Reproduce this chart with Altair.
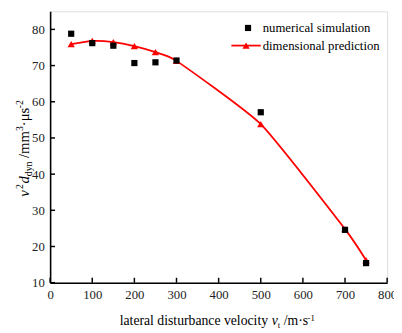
import altair as alt
import pandas as pd

# ---- data ----
velocity = [50, 100, 150, 200, 250, 300, 500, 700, 750]
simulation = [78.8, 76.2, 75.5, 70.7, 70.9, 71.4, 57.1, 24.6, 15.4]
prediction = [75.9, 76.8, 76.5, 75.4, 73.7, 71.3, 53.8, 24.8, 16.2]
x_ticks = [0, 100, 200, 300, 400, 500, 600, 700, 800]
y_ticks = [10, 20, 30, 40, 50, 60, 70, 80]
series_names = ["numerical simulation", "dimensional prediction"]

W, H = 344, 277
FONT = "Liberation Serif"

df_sim = pd.DataFrame({"v": velocity, "y": simulation})
df_pred = pd.DataFrame({"v": velocity, "y": prediction})

xs = alt.Scale(domain=[0, 800], nice=False, zero=False)
ys = alt.Scale(domain=[10, 85], nice=False, zero=False)

xaxis = alt.Axis(values=x_ticks, ticks=False, grid=False, labelFont=FONT, labelFontSize=13,
                 labelColor="#222", labelPadding=6, domainColor="black", domainWidth=1.6,
                 title=None, labelFlush=False, labelOverlap=False)
yaxis = alt.Axis(values=y_ticks, ticks=False, grid=False, labelFont=FONT, labelFontSize=13,
                 labelColor="#222", labelPadding=6, domainColor="black", domainWidth=1.6,
                 title=None, labelOverlap=False, labelFlush=False)


def X(field):
    return alt.X(field, scale=xs, axis=xaxis)


def Y(field):
    return alt.Y(field, scale=ys, axis=yaxis)


line = alt.Chart(df_pred).mark_line(color="#ff0000", strokeWidth=1.8, interpolate="cardinal", tension=0.5).encode(
    x=X("v:Q"), y=Y("y:Q"))
tri = alt.Chart(df_pred).mark_point(shape="triangle-up", filled=True, color="#ff0000", size=55, opacity=1).encode(
    x=X("v:Q"), y=Y("y:Q"))
sq = alt.Chart(df_sim).mark_point(shape="square", filled=True, color="black", size=40, opacity=1).encode(
    x=X("v:Q"), y=Y("y:Q"))

# inward ticks
xt = alt.Chart(pd.DataFrame({"t": x_ticks})).mark_rule(color="black", strokeWidth=1.5).encode(
    x=X("t:Q"), y=alt.value(H), y2=alt.value(H - 5))
yt = alt.Chart(pd.DataFrame({"t": y_ticks})).mark_rule(color="black", strokeWidth=1.5).encode(
    y=Y("t:Q"), x=alt.value(0), x2=alt.value(5))

# ---- text helpers ----
WID = {"v": .5, "d": .5, "y": .5, "n": .5, " ": .25, "/": .278, "m": .778, "·": .25, "μ": .576,
       "s": .389, "2": .5, "3": .5, "-": .333, "1": .5, "t": .278, "l": .278, "a": .444, "e": .444,
       "r": .333, "i": .278, "u": .5, "b": .5, "c": .444, "o": .5}


def tw(s, size):
    return sum(WID.get(ch, .5) for ch in s) * size


def piece(txt, x, y, size, italic=False, angle=0):
    kw = dict(font=FONT, fontSize=size, color="black", align="left", baseline="alphabetic")
    if italic:
        kw["fontStyle"] = "italic"
    if angle:
        kw["angle"] = angle
    return alt.Chart(pd.DataFrame({"t": [txt]})).mark_text(**kw).encode(
        text="t:N", x=alt.value(x), y=alt.value(y))


layers = []
# x title: (text, size, italic, baseline offset, gap before)
xp = [("lateral disturbance velocity", 14, False, 0, 0), ("v", 14, True, 0, 3.5),
      ("t", 9, False, 3, 0), ("/m·s", 14, False, 0, 3.5), ("-1", 9, False, -4, 0.5)]
cx, by = 71, 320
for t, s, it, off, gap in xp:
    cx += gap
    layers.append(piece(t, cx, by + off, s, it))
    cx += tw(t, s) * (0.9 if it else 1.0)

# y title (rotated)
yp = [("v", 15, True, 0, 0), ("2", 10, False, -6, 0.5), ("d", 15, True, 0, 0.5), ("dyn", 10, False, 3, 0),
      ("/mm", 15, False, 0, 3.5), ("3", 10, False, -6, 0), ("·μs", 15, False, 0, 0), ("-2", 10, False, -6, 0)]
total = sum(tw(t, s) + g for t, s, _, _, g in yp)
cy = 140 + total / 2
bx = -22
for t, s, it, off, gap in yp:
    cy -= gap
    layers.append(piece(t, bx + off, cy, s, it, angle=270))
    cy -= tw(t, s)

# legend
leg_sq = alt.Chart(pd.DataFrame({"k": [series_names[0]]})).mark_point(
    shape="square", filled=True, color="black", size=40, opacity=1).encode(x=alt.value(202), y=alt.value(17))
leg_line = alt.Chart(pd.DataFrame({"k": [series_names[1]]})).mark_rule(color="#ff0000", strokeWidth=1.8).encode(
    x=alt.value(185), x2=alt.value(215), y=alt.value(35))
leg_tri = alt.Chart(pd.DataFrame({"k": [series_names[1]]})).mark_point(
    shape="triangle-up", filled=True, color="#ff0000", size=55, opacity=1).encode(x=alt.value(200), y=alt.value(35))
leg_t1 = alt.Chart(pd.DataFrame({"k": [series_names[0]]})).mark_text(
    font=FONT, fontSize=13, align="left", baseline="middle", color="black").encode(
    text="k:N", x=alt.value(217), y=alt.value(17))
leg_t2 = alt.Chart(pd.DataFrame({"k": [series_names[1]]})).mark_text(
    font=FONT, fontSize=13, align="left", baseline="middle", color="black").encode(
    text="k:N", x=alt.value(217), y=alt.value(35))

chart = alt.layer(line, tri, sq, xt, yt, leg_sq, leg_line, leg_tri, leg_t1, leg_t2, *layers).properties(
    width=W, height=H,
    autosize=alt.AutoSizeParams(type="none"),
    padding={"left": 43, "top": 0, "right": 7, "bottom": 48},
).configure_view(stroke="black", strokeWidth=1.2).configure_axis(labelOverlap=False).configure(background="white")

chart.save("out.html", embed_options={"renderer": "svg", "actions": False})
